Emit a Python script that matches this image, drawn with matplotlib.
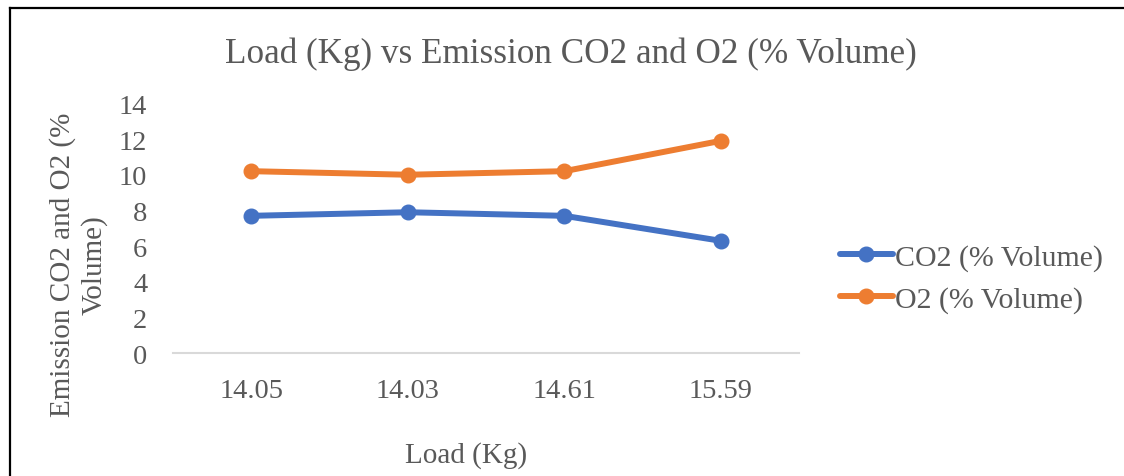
import matplotlib
matplotlib.use("Agg")
import matplotlib.pyplot as plt
from matplotlib.lines import Line2D

# load readings and measured emissions
loads = ["14.05", "14.03", "14.61", "15.59"]
co2 = [7.7, 7.9, 7.7, 6.3]
o2 = [10.2, 10.0, 10.2, 11.9]
y_ticks = [0, 2, 4, 6, 8, 10, 12, 14]

plt.rcParams['font.family'] = ['Liberation Serif', 'DejaVu Serif']
text_color = '#595959'

fig = plt.figure(figsize=(11.24, 4.77), dpi=100)
ax = fig.add_axes([0.1539, 0.2572, 0.5571, 0.5241])

x = range(len(loads))
ax.plot(x, co2, color='#4472C4', lw=4.3, marker='o', ms=10.5,
        solid_capstyle='round', label='CO2 (% Volume)')
ax.plot(x, o2, color='#ED7D31', lw=4.3, marker='o', ms=10.5,
        solid_capstyle='round', label='O2 (% Volume)')

ax.set_xlim(-0.5, len(loads) - 0.5)
ax.set_ylim(0, 14)
ax.set_xticks(list(x))
ax.set_xticklabels(loads)
ax.set_yticks(y_ticks)
ax.tick_params(length=0, labelsize=20.5, labelcolor=text_color)
ax.tick_params(axis='x', pad=18)
ax.tick_params(axis='y', pad=18.5)
for side in ['top', 'right', 'left']:
    ax.spines[side].set_visible(False)
ax.spines['bottom'].set_color('#d9d9d9')
ax.spines['bottom'].set_linewidth(1.5)

fig.text(0.508, 0.887, 'Load (Kg) vs Emission CO2 and O2 (% Volume)',
         ha='center', va='center', fontsize=25.3, color=text_color)
fig.text(0.4146, 0.046, 'Load (Kg)', ha='center', va='center',
         fontsize=21, color=text_color)
fig.text(0.0698, 0.444, 'Emission CO2 and O2 (%\nVolume)', ha='center',
         va='center', rotation=90, fontsize=21, color=text_color,
         linespacing=1.2)

leg = ax.legend(loc='center left', bbox_to_anchor=(1.065, 0.3),
                frameon=False, fontsize=21.5, handlelength=1.78,
                handletextpad=0.07, labelspacing=0.5,
                borderpad=0, borderaxespad=0)
for t in leg.get_texts():
    t.set_color(text_color)

# frame lines along the top and left edge
fig.add_artist(Line2D([0.0093, 0.0093], [0.0, 0.981], color='black',
                      lw=1.6, transform=fig.transFigure))
fig.add_artist(Line2D([0.0093, 1.0], [0.981, 0.981], color='black',
                      lw=1.6, transform=fig.transFigure))

fig.savefig('out.png', dpi=100)
